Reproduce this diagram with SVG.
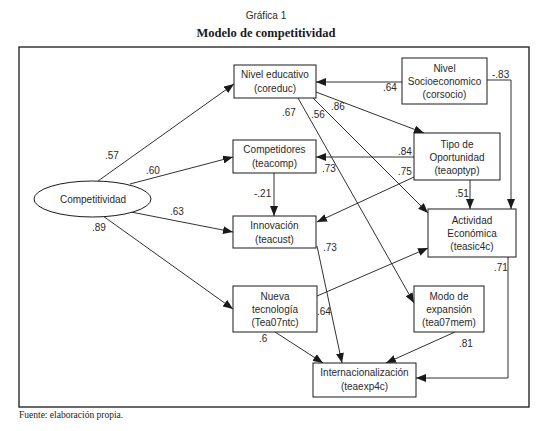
<svg xmlns="http://www.w3.org/2000/svg" width="539" height="431" viewBox="0 0 539 431">
<style>
.t{font-family:"Liberation Sans",Arial,sans-serif;font-size:10px;fill:#2a2a2a;text-anchor:middle}
.l{font-family:"Liberation Sans",Arial,sans-serif;font-size:10px;fill:#2a2a2a}
.b{fill:#fff;stroke:#1a1a1a;stroke-width:1}
.c{fill:none;stroke:#1a1a1a;stroke-width:0.9;marker-end:url(#a)}
</style>
<defs>
<marker id="a" markerUnits="userSpaceOnUse" markerWidth="10" markerHeight="8" refX="10" refY="4" orient="auto">
<path d="M0,0 L10,4 L0,8 z" fill="#1a1a1a"/>
</marker>
</defs>
<rect width="539" height="431" fill="#fff"/>
<text x="266" y="19" class="t">Gráfica 1</text>
<text x="266" y="37" style="font-family:'Liberation Serif','Times New Roman',serif;font-size:12.5px;font-weight:bold;fill:#1a1a1a;text-anchor:middle">Modelo de competitividad</text>
<rect x="19" y="47" width="510" height="360" fill="none" stroke="#1a1a1a" stroke-width="1.3"/>
<text x="19" y="418" style="font-family:'Liberation Serif','Times New Roman',serif;font-size:9.5px;fill:#1a1a1a">Fuente: elaboración propia.</text>

<g id="connectors">
<line class="c" x1="98" y1="181" x2="234" y2="84"/>
<line class="c" x1="130" y1="184" x2="233" y2="157"/>
<line class="c" x1="131" y1="212" x2="233" y2="232"/>
<line class="c" x1="103" y1="216" x2="233" y2="309"/>
<line class="c" x1="402" y1="82" x2="316" y2="82"/>
<polyline class="c" points="487,80 511,80 511,209"/>
<line class="c" x1="316" y1="92" x2="424" y2="133"/>
<line class="c" x1="313" y1="98" x2="428" y2="213"/>
<line class="c" x1="298" y1="98" x2="414" y2="303"/>
<line class="c" x1="414" y1="157" x2="316" y2="157"/>
<line class="c" x1="414" y1="177" x2="317" y2="222"/>
<line class="c" x1="470" y1="180" x2="470" y2="209"/>
<line class="c" x1="274" y1="173" x2="274" y2="216"/>
<line class="c" x1="317" y1="246" x2="342" y2="363"/>
<line class="c" x1="317" y1="296" x2="428" y2="248"/>
<line class="c" x1="275" y1="332" x2="323" y2="363"/>
<line class="c" x1="455" y1="332" x2="386" y2="363"/>
<polyline class="c" points="508,257 508,378 416,378"/>
</g>

<g id="labels">
<text class="l" x="105" y="159">.57</text>
<text class="l" x="146" y="174">.60</text>
<text class="l" x="170" y="215">.63</text>
<text class="l" x="92" y="231">.89</text>
<text class="l" x="383" y="91">.64</text>
<text class="l" x="492" y="78">-.83</text>
<text class="l" x="331" y="110">.86</text>
<text class="l" x="282" y="116">.67</text>
<text class="l" x="311" y="118">.56</text>
<text class="l" x="398" y="155">.84</text>
<text class="l" x="398" y="175">.75</text>
<text class="l" x="254" y="197">-.21</text>
<text class="l" x="455" y="197">.51</text>
<text class="l" x="322" y="172">.73</text>
<text class="l" x="323" y="251">.73</text>
<text class="l" x="494" y="271">.71</text>
<text class="l" x="317" y="315">.64</text>
<text class="l" x="259" y="342">.6</text>
<text class="l" x="459" y="347">.81</text>
</g>

<g id="competitividad">
<ellipse cx="92.5" cy="199" rx="58.5" ry="18" class="b"/>
<text x="93" y="203" class="t">Competitividad</text>
</g>
<g id="nivel-educativo">
<rect x="234" y="65" width="82" height="33" class="b"/>
<text x="275" y="78" class="t">Nivel educativo</text>
<text x="275" y="92" class="t">(coreduc)</text>
</g>
<g id="nivel-socioeconomico">
<rect x="402" y="58" width="85" height="46" class="b"/>
<text x="444.5" y="72" class="t">Nivel</text>
<text x="444.5" y="85" class="t">Socioeconomico</text>
<text x="444.5" y="98" class="t">(corsocio)</text>
</g>
<g id="tipo-oportunidad">
<rect x="414" y="133" width="86" height="47" class="b"/>
<text x="457" y="148" class="t">Tipo de</text>
<text x="457" y="161" class="t">Oportunidad</text>
<text x="457" y="174" class="t">(teaoptyp)</text>
</g>
<g id="competidores">
<rect x="233" y="140" width="83" height="33" class="b"/>
<text x="274.5" y="153" class="t">Competidores</text>
<text x="274.5" y="167" class="t">(teacomp)</text>
</g>
<g id="innovacion">
<rect x="233" y="216" width="83" height="32" class="b"/>
<text x="274.5" y="229" class="t">Innovación</text>
<text x="274.5" y="243" class="t">(teacust)</text>
</g>
<g id="actividad-economica">
<rect x="428" y="209" width="88" height="48" class="b"/>
<text x="472" y="224" class="t">Actividad</text>
<text x="472" y="237" class="t">Económica</text>
<text x="472" y="250" class="t">(teasic4c)</text>
</g>
<g id="nueva-tecnologia">
<rect x="233" y="286" width="84" height="46" class="b"/>
<text x="275" y="300" class="t">Nueva</text>
<text x="275" y="313" class="t">tecnología</text>
<text x="275" y="326" class="t">(Tea07ntc)</text>
</g>
<g id="modo-expansion">
<rect x="414" y="286" width="70" height="46" class="b"/>
<text x="449" y="300" class="t">Modo de</text>
<text x="449" y="313" class="t">expansión</text>
<text x="449" y="326" class="t">(tea07mem)</text>
</g>
<g id="internacionalizacion">
<rect x="313" y="363" width="103" height="34" class="b"/>
<text x="364.5" y="376" class="t">Internacionalización</text>
<text x="364.5" y="390" class="t">(teaexp4c)</text>
</g>
</svg>
